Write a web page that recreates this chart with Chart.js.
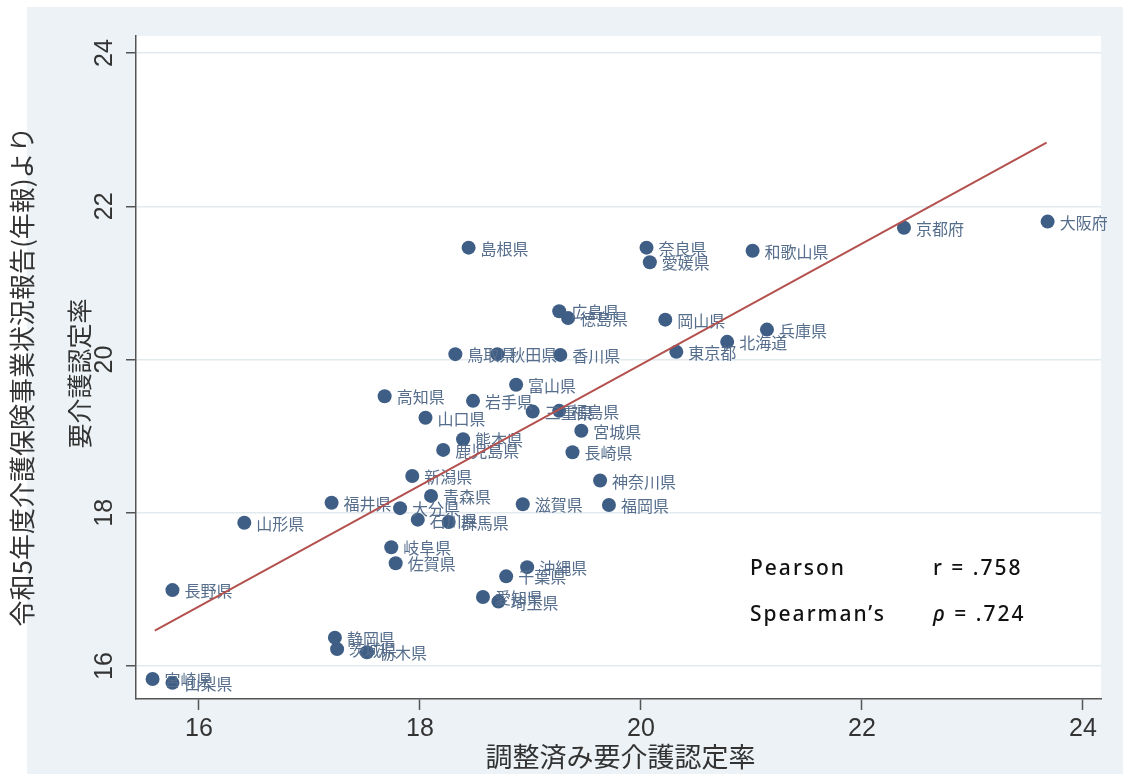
<!DOCTYPE html>
<html lang="ja">
<head>
<meta charset="utf-8">
<title>調整済み要介護認定率と要介護認定率</title>
<script src="https://cdn.jsdelivr.net/npm/chart.js@4.4.1/dist/chart.umd.min.js"></script>
<style>
  html, body { margin: 0; padding: 0; background: #fff; }
  #wrap { width: 1123px; height: 774px; }
</style>
</head>
<body>
<div id="wrap"><canvas id="chart" width="1123" height="774"></canvas></div>
<script>
// 都道府県別：調整済み要介護認定率 (x) と 要介護認定率 (y)
const prefectures = [
  '大阪府', '京都府', '奈良県', '愛媛県', '和歌山県', '島根県', '広島県', '徳島県',
  '岡山県', '兵庫県', '北海道', '東京都', '鳥取県', '秋田県', '香川県', '富山県',
  '高知県', '岩手県', '三重県', '福島県', '山口県', '宮城県', '熊本県', '鹿児島県',
  '長崎県', '新潟県', '神奈川県', '青森県', '福井県', '大分県', '滋賀県', '福岡県',
  '石川県', '群馬県', '山形県', '岐阜県', '佐賀県', '沖縄県', '千葉県', '長野県',
  '愛知県', '埼玉県', '静岡県', '茨城県', '栃木県', '宮崎県', '山梨県'
];
const adjustedRate = [
  23.68, 22.38, 20.05, 20.08, 21.01, 18.44, 19.26, 19.34,
  20.22, 21.14, 20.78, 20.32, 18.32, 18.70, 19.27, 18.87,
  17.68, 18.48, 19.02, 19.26, 18.05, 19.46, 18.39, 18.21,
  19.38, 17.93, 19.63, 18.10, 17.20, 17.82, 18.93, 19.71,
  17.98, 18.26, 16.41, 17.74, 17.78, 18.97, 18.78, 15.76,
  18.57, 18.71, 17.23, 17.25, 17.52, 15.58, 15.76
];
const reportedRate = [
  21.80, 21.72, 21.46, 21.27, 21.42, 21.46, 20.63, 20.54,
  20.52, 20.39, 20.23, 20.10, 20.07, 20.07, 20.06, 19.67,
  19.52, 19.46, 19.32, 19.33, 19.24, 19.07, 18.96, 18.82,
  18.79, 18.48, 18.42, 18.22, 18.13, 18.06, 18.11, 18.10,
  17.91, 17.88, 17.87, 17.55, 17.34, 17.29, 17.17, 16.99,
  16.90, 16.84, 16.37, 16.22, 16.18, 15.83, 15.78
];

// 回帰直線の両端
const fitX = [15.60, 23.67];
const fitY = [16.46, 22.83];

const xTicks = [16, 18, 20, 22, 24];
const yTicks = [16, 18, 20, 22, 24];

const xTitle = '調整済み要介護認定率';
const yTitle = '要介護認定率';
const ySubTitle = '令和5年度介護保険事業状況報告(年報)より';

const statsText = [
  ['Pearson', 'r', ' = .758'],
  ['Spearman’s', 'ρ', ' = .724']
];

const axisColor = '#555';
const textColor = '#333';

const decorPlugin = {
  id: 'decor',
  beforeDraw(chart) {
    const { ctx, chartArea: a } = chart;
    ctx.save();
    ctx.fillStyle = '#ffffff';
    ctx.fillRect(0, 0, chart.width, chart.height);
    ctx.fillStyle = '#ecf2f5';
    ctx.fillRect(27, 7, chart.width - 27, chart.height - 7);
    ctx.fillStyle = '#ffffff';
    ctx.fillRect(a.left, a.top, a.right - a.left, a.bottom - a.top);
    ctx.restore();
  },
  afterDatasetDraw(chart, args) {
    if (args.index !== 0) return;
    // marker labels
    const ctx = chart.ctx;
    const meta = chart.getDatasetMeta(0);
    ctx.save();
    ctx.font = '16px "Noto Sans CJK JP"';
    ctx.fillStyle = '#566e8c';
    ctx.textBaseline = 'middle';
    ctx.textAlign = 'left';
    meta.data.forEach((pt, i) => ctx.fillText(prefectures[i], pt.x + 12, pt.y + 1));
    ctx.restore();
  },
  afterDraw(chart) {
    const { ctx, chartArea: a } = chart;
    const yScale = chart.scales.y;
    ctx.save();
    ctx.fillStyle = textColor;

    // y tick labels, rotated
    ctx.font = '25px "Liberation Sans", Arial, sans-serif';
    ctx.textAlign = 'center';
    ctx.textBaseline = 'middle';
    yTicks.forEach(v => {
      ctx.save();
      ctx.translate(105, yScale.getPixelForValue(v));
      ctx.rotate(-Math.PI / 2);
      ctx.fillText(String(v), 0, 0);
      ctx.restore();
    });

    // axis titles
    ctx.font = '27px "Noto Sans CJK JP"';
    ctx.fillText(xTitle, (a.left + a.right) / 2 + 2, 757);

    ctx.font = '25px "Noto Sans CJK JP"';
    ctx.save();
    ctx.translate(79, (a.top + a.bottom) / 2 + 6);
    ctx.rotate(-Math.PI / 2);
    ctx.fillText(yTitle, 0, 0);
    ctx.restore();

    ctx.font = '26px "Noto Sans CJK JP"';
    ctx.save();
    ctx.translate(22, (a.top + a.bottom) / 2 + 9);
    ctx.rotate(-Math.PI / 2);
    ctx.fillText(ySubTitle, 0, 0);
    ctx.restore();

    // correlation annotation
    ctx.fillStyle = '#111';
    ctx.textAlign = 'left';
    ctx.textBaseline = 'alphabetic';
    ctx.letterSpacing = '2px';
    statsText.forEach((row, i) => {
      const y = 575 + i * 46;
      ctx.font = '500 21px "Noto Sans"';
      ctx.fillText(row[0], 750, y);
      ctx.font = (i === 1 ? 'italic ' : '') + '500 21px "Noto Sans"';
      ctx.fillText(row[1], 933, y);
      const w = ctx.measureText(row[1]).width;
      ctx.font = '500 21px "Noto Sans"';
      ctx.fillText(row[2], 933 + w, y);
    });
    ctx.restore();
  }
};

new Chart(document.getElementById('chart'), {
  type: 'scatter',
  data: {
    datasets: [
      {
        label: '都道府県',
        data: adjustedRate.map((x, i) => ({ x: x, y: reportedRate[i] })),
        backgroundColor: '#3f5e85',
        borderWidth: 0,
        pointRadius: 7,
        pointHoverRadius: 7,
        order: 1
      },
      {
        label: '回帰直線',
        data: fitX.map((x, i) => ({ x: x, y: fitY[i] })),
        showLine: true,
        borderColor: '#b4514e',
        borderWidth: 2,
        pointRadius: 0,
        order: 0
      }
    ]
  },
  options: {
    responsive: false,
    animation: false,
    layout: { padding: { left: 0, top: 36, right: 22, bottom: 0 } },
    plugins: {
      legend: { display: false },
      tooltip: { enabled: false }
    },
    scales: {
      x: {
        type: 'linear',
        min: 15.43,
        max: 24.163,
        afterBuildTicks: (scale) => { scale.ticks = xTicks.map(v => ({ value: v })); },
        afterFit: (scale) => { scale.height = 75; },
        grid: {
          drawOnChartArea: false,
          drawTicks: true,
          tickLength: 11,
          tickColor: axisColor,
          tickWidth: 1.5
        },
        border: { display: true, color: axisColor, width: 1.5 },
        ticks: {
          padding: 4,
          color: textColor,
          font: { family: '"Liberation Sans", Arial, sans-serif', size: 25 },
          maxRotation: 0
        }
      },
      y: {
        type: 'linear',
        min: 15.569,
        max: 24.222,
        afterBuildTicks: (scale) => { scale.ticks = yTicks.map(v => ({ value: v })); },
        afterFit: (scale) => { scale.width = 136; },
        grid: {
          color: '#e2eaee',
          lineWidth: 1.5,
          drawTicks: true,
          tickLength: 10,
          tickColor: axisColor,
          tickWidth: 1.5
        },
        border: { display: true, color: axisColor, width: 1.5 },
        ticks: { display: false }
      }
    }
  },
  plugins: [decorPlugin]
});
</script>
</body>
</html>
